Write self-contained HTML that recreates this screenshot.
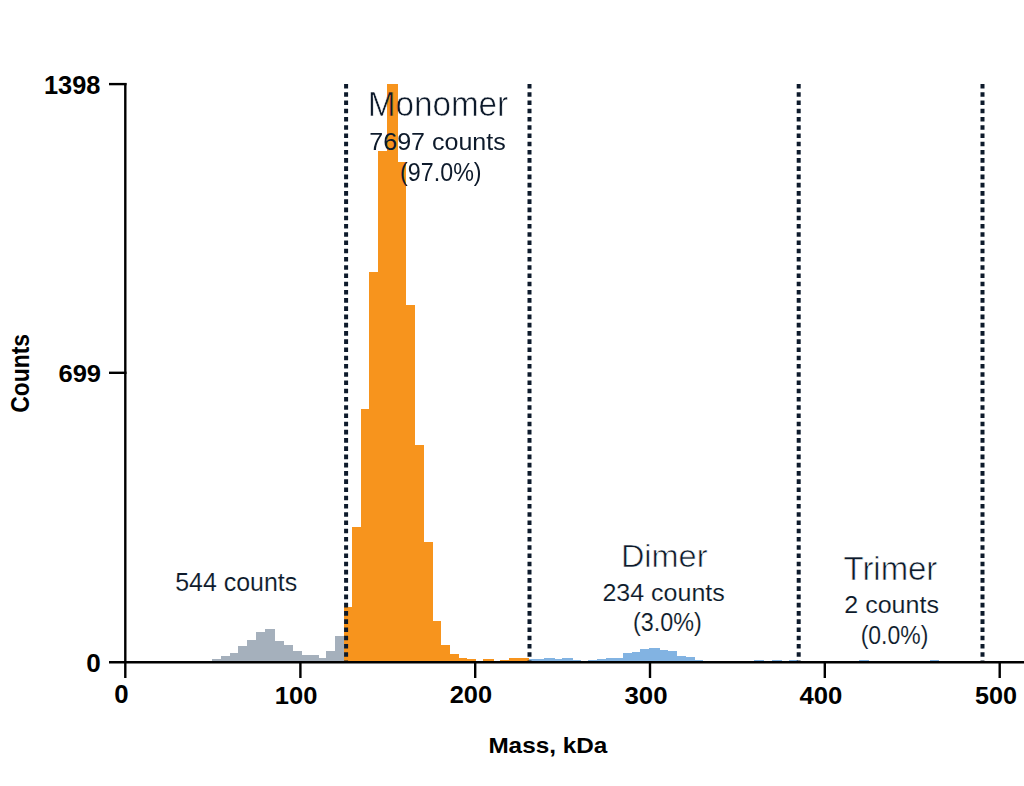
<!DOCTYPE html>
<html><head><meta charset="utf-8"><style>
html,body{margin:0;padding:0;background:#fff;width:1024px;height:786px;overflow:hidden}
svg{display:block}
text{font-family:"Liberation Sans",sans-serif}
</style></head><body>
<svg width="1024" height="786" viewBox="0 0 1024 786">
<rect width="1024" height="786" fill="#fff"/>
<defs><clipPath id="onBars"><rect x="344.1" y="606.8" width="8.10" height="55.20"/><rect x="352.2" y="527" width="8.40" height="135.00"/><rect x="360.6" y="408.6" width="8.80" height="253.40"/><rect x="369.4" y="271.6" width="8.70" height="390.40"/><rect x="378.1" y="151.2" width="8.70" height="510.80"/><rect x="386.8" y="84.2" width="10.80" height="577.80"/><rect x="397.6" y="161.6" width="8.30" height="500.40"/><rect x="405.9" y="304.7" width="9.40" height="357.30"/><rect x="415.3" y="445.3" width="8.50" height="216.70"/><rect x="423.8" y="542" width="8.90" height="120.00"/><rect x="432.7" y="620.8" width="8.50" height="41.20"/><rect x="441.2" y="644.5" width="8.80" height="17.50"/><rect x="450" y="654.4" width="8.75" height="7.60"/><rect x="458.75" y="657.6" width="8.55" height="4.40"/><rect x="467.3" y="658.8" width="8.80" height="3.20"/><rect x="483" y="659.1" width="10.70" height="2.90"/><rect x="500" y="659.8" width="9.30" height="2.20"/><rect x="509.3" y="658.3" width="8.80" height="3.70"/><rect x="518.1" y="658.1" width="10.50" height="3.90"/></clipPath><mask id="offBars" maskUnits="userSpaceOnUse" x="0" y="0" width="1024" height="786"><rect width="1024" height="786" fill="#fff"/><g fill="#000" shape-rendering="crispEdges"><rect x="344.1" y="606.8" width="8.10" height="55.20"/><rect x="352.2" y="527" width="8.40" height="135.00"/><rect x="360.6" y="408.6" width="8.80" height="253.40"/><rect x="369.4" y="271.6" width="8.70" height="390.40"/><rect x="378.1" y="151.2" width="8.70" height="510.80"/><rect x="386.8" y="84.2" width="10.80" height="577.80"/><rect x="397.6" y="161.6" width="8.30" height="500.40"/><rect x="405.9" y="304.7" width="9.40" height="357.30"/><rect x="415.3" y="445.3" width="8.50" height="216.70"/><rect x="423.8" y="542" width="8.90" height="120.00"/><rect x="432.7" y="620.8" width="8.50" height="41.20"/><rect x="441.2" y="644.5" width="8.80" height="17.50"/><rect x="450" y="654.4" width="8.75" height="7.60"/><rect x="458.75" y="657.6" width="8.55" height="4.40"/><rect x="467.3" y="658.8" width="8.80" height="3.20"/><rect x="483" y="659.1" width="10.70" height="2.90"/><rect x="500" y="659.8" width="9.30" height="2.20"/><rect x="509.3" y="658.3" width="8.80" height="3.70"/><rect x="518.1" y="658.1" width="10.50" height="3.90"/></g></mask></defs>
<g shape-rendering="crispEdges"><rect x="204" y="660.5" width="8.30" height="1.50" fill="#A5B0BC"/><rect x="212.3" y="658.75" width="8.20" height="3.25" fill="#A5B0BC"/><rect x="220.5" y="656.2" width="9.00" height="5.80" fill="#A5B0BC"/><rect x="229.5" y="652.7" width="8.70" height="9.30" fill="#A5B0BC"/><rect x="238.2" y="645.9" width="8.80" height="16.10" fill="#A5B0BC"/><rect x="247" y="639.7" width="8.50" height="22.30" fill="#A5B0BC"/><rect x="255.5" y="632.0" width="9.00" height="30.00" fill="#A5B0BC"/><rect x="264.5" y="629.4" width="10.70" height="32.60" fill="#A5B0BC"/><rect x="275.2" y="641.0" width="8.70" height="21.00" fill="#A5B0BC"/><rect x="283.9" y="645.0" width="8.80" height="17.00" fill="#A5B0BC"/><rect x="292.7" y="651.0" width="8.80" height="11.00" fill="#A5B0BC"/><rect x="301.5" y="655.0" width="8.60" height="7.00" fill="#A5B0BC"/><rect x="310.1" y="655.4" width="8.80" height="6.60" fill="#A5B0BC"/><rect x="318.9" y="657.9" width="7.00" height="4.10" fill="#A5B0BC"/><rect x="325.9" y="651.0" width="8.70" height="11.00" fill="#A5B0BC"/><rect x="334.6" y="636.1" width="9.50" height="25.90" fill="#A5B0BC"/><rect x="344.1" y="606.8" width="8.10" height="55.20" fill="#F7941D"/><rect x="352.2" y="527" width="8.40" height="135.00" fill="#F7941D"/><rect x="360.6" y="408.6" width="8.80" height="253.40" fill="#F7941D"/><rect x="369.4" y="271.6" width="8.70" height="390.40" fill="#F7941D"/><rect x="378.1" y="151.2" width="8.70" height="510.80" fill="#F7941D"/><rect x="386.8" y="84.2" width="10.80" height="577.80" fill="#F7941D"/><rect x="397.6" y="161.6" width="8.30" height="500.40" fill="#F7941D"/><rect x="405.9" y="304.7" width="9.40" height="357.30" fill="#F7941D"/><rect x="415.3" y="445.3" width="8.50" height="216.70" fill="#F7941D"/><rect x="423.8" y="542" width="8.90" height="120.00" fill="#F7941D"/><rect x="432.7" y="620.8" width="8.50" height="41.20" fill="#F7941D"/><rect x="441.2" y="644.5" width="8.80" height="17.50" fill="#F7941D"/><rect x="450" y="654.4" width="8.75" height="7.60" fill="#F7941D"/><rect x="458.75" y="657.6" width="8.55" height="4.40" fill="#F7941D"/><rect x="467.3" y="658.8" width="8.80" height="3.20" fill="#F7941D"/><rect x="483" y="659.1" width="10.70" height="2.90" fill="#F7941D"/><rect x="500" y="659.8" width="9.30" height="2.20" fill="#F7941D"/><rect x="509.3" y="658.3" width="8.80" height="3.70" fill="#F7941D"/><rect x="518.1" y="658.1" width="10.50" height="3.90" fill="#F7941D"/><rect x="528.6" y="659.4" width="7.70" height="2.60" fill="#82B3E2"/><rect x="536.3" y="659.4" width="7.70" height="2.60" fill="#82B3E2"/><rect x="544" y="658.4" width="10.80" height="3.60" fill="#82B3E2"/><rect x="554.8" y="659.4" width="6.80" height="2.60" fill="#82B3E2"/><rect x="561.6" y="658.4" width="11.30" height="3.60" fill="#82B3E2"/><rect x="572.9" y="659.9" width="8.30" height="2.10" fill="#82B3E2"/><rect x="588" y="660.4" width="8.80" height="1.60" fill="#82B3E2"/><rect x="596.8" y="659.0" width="9.20" height="3.00" fill="#82B3E2"/><rect x="606" y="658.0" width="8.50" height="4.00" fill="#82B3E2"/><rect x="614.5" y="658.0" width="8.50" height="4.00" fill="#82B3E2"/><rect x="623" y="653.2" width="8.60" height="8.80" fill="#82B3E2"/><rect x="631.6" y="652.0" width="8.80" height="10.00" fill="#82B3E2"/><rect x="640.4" y="648.5" width="8.80" height="13.50" fill="#82B3E2"/><rect x="649.2" y="647.7" width="10.60" height="14.30" fill="#82B3E2"/><rect x="659.8" y="649.6" width="8.20" height="12.40" fill="#82B3E2"/><rect x="668" y="650.8" width="9.30" height="11.20" fill="#82B3E2"/><rect x="677.3" y="656.1" width="8.80" height="5.90" fill="#82B3E2"/><rect x="686.1" y="657.3" width="8.70" height="4.70" fill="#82B3E2"/><rect x="694.8" y="660.2" width="8.20" height="1.80" fill="#82B3E2"/><rect x="754" y="660.4" width="9.80" height="1.60" fill="#82B3E2"/><rect x="772" y="660.4" width="9.80" height="1.60" fill="#82B3E2"/><rect x="789.2" y="660.4" width="8.80" height="1.60" fill="#82B3E2"/><rect x="859" y="660.4" width="10.00" height="1.60" fill="#82B3E2"/><rect x="930" y="660.4" width="9.00" height="1.60" fill="#82B3E2"/></g>
<line x1="346.1" y1="84" x2="346.1" y2="662" stroke="#0D1A2B" stroke-width="4" stroke-dasharray="4.6 3.635"/><line x1="529.5" y1="84" x2="529.5" y2="662" stroke="#0D1A2B" stroke-width="4" stroke-dasharray="4.6 3.635"/><line x1="798.7" y1="84" x2="798.7" y2="662" stroke="#0D1A2B" stroke-width="4" stroke-dasharray="4.6 3.635"/><line x1="982.5" y1="84" x2="982.5" y2="662" stroke="#0D1A2B" stroke-width="4" stroke-dasharray="4.6 3.635"/>
<g stroke="#000" stroke-width="2.4" fill="none"><line x1="125.3" y1="83" x2="125.3" y2="678"/><line x1="109" y1="84.1" x2="126.5" y2="84.1"/><line x1="109" y1="372.8" x2="126.5" y2="372.8"/><line x1="109" y1="662.2" x2="1024" y2="662.2"/><line x1="300.4" y1="662" x2="300.4" y2="678"/><line x1="475.2" y1="662" x2="475.2" y2="678"/><line x1="650" y1="662" x2="650" y2="678"/><line x1="824.8" y1="662" x2="824.8" y2="678"/><line x1="999.7" y1="662" x2="999.7" y2="678"/></g>
<text x="620.92" y="567.02" font-size="30.87" font-weight="normal" fill="#0D1A2B" textLength="86.54" lengthAdjust="spacingAndGlyphs" stroke="#fff" stroke-width="0.6">Dimer</text><text x="602.46" y="600.52" font-size="24.51" font-weight="normal" fill="#0D1A2B" textLength="122.34" lengthAdjust="spacingAndGlyphs" stroke="#fff" stroke-width="0.12">234 counts</text><text x="633.04" y="631.22" font-size="25.15" font-weight="normal" fill="#0D1A2B" textLength="68.78" lengthAdjust="spacingAndGlyphs" stroke="#fff" stroke-width="0.12">(3.0%)</text><text x="843.52" y="580.02" font-size="32.70" font-weight="normal" fill="#0D1A2B" textLength="93.80" lengthAdjust="spacingAndGlyphs" stroke="#fff" stroke-width="0.6">Trimer</text><text x="844.30" y="613.48" font-size="23.00" font-weight="normal" fill="#0D1A2B" textLength="94.66" lengthAdjust="spacingAndGlyphs" stroke="#fff" stroke-width="0.12">2 counts</text><text x="860.70" y="644.40" font-size="25.22" font-weight="normal" fill="#0D1A2B" textLength="67.62" lengthAdjust="spacingAndGlyphs" stroke="#fff" stroke-width="0.12">(0.0%)</text><text x="175.20" y="590.94" font-size="24.90" font-weight="normal" fill="#0D1A2B" textLength="121.96" lengthAdjust="spacingAndGlyphs" stroke="#fff" stroke-width="0.12">544 counts</text><g mask="url(#offBars)"><text x="367.68" y="115.72" font-size="34.64" font-weight="normal" fill="#0D1A2B" textLength="140.50" lengthAdjust="spacingAndGlyphs" stroke="#fff" stroke-width="0.6">Monomer</text><text x="369.30" y="149.84" font-size="24.67" font-weight="normal" fill="#0D1A2B" textLength="136.50" lengthAdjust="spacingAndGlyphs">7697 counts</text><text x="400.10" y="181.18" font-size="25.91" font-weight="normal" fill="#0D1A2B" textLength="81.50" lengthAdjust="spacingAndGlyphs">(97.0%)</text></g><g clip-path="url(#onBars)"><text x="367.68" y="115.72" font-size="34.64" font-weight="normal" fill="#0D1A2B" textLength="140.50" lengthAdjust="spacingAndGlyphs" stroke="#F7941D" stroke-width="0.6">Monomer</text><text x="369.30" y="149.84" font-size="24.67" font-weight="normal" fill="#0D1A2B" textLength="136.50" lengthAdjust="spacingAndGlyphs">7697 counts</text><text x="400.10" y="181.18" font-size="25.91" font-weight="normal" fill="#0D1A2B" textLength="81.50" lengthAdjust="spacingAndGlyphs">(97.0%)</text></g><text x="43.96" y="93.56" font-size="24.92" font-weight="bold" fill="#000" textLength="56.44" lengthAdjust="spacingAndGlyphs">1398</text><text x="58.44" y="382.26" font-size="24.75" font-weight="bold" fill="#000" textLength="42.64" lengthAdjust="spacingAndGlyphs">699</text><text x="86.34" y="671.72" font-size="26.09" font-weight="bold" fill="#000" textLength="14.50" lengthAdjust="spacingAndGlyphs">0</text><text x="114.16" y="703.46" font-size="24.96" font-weight="bold" fill="#000" textLength="14.34" lengthAdjust="spacingAndGlyphs">0</text><text x="274.82" y="703.62" font-size="24.75" font-weight="bold" fill="#000" textLength="42.58" lengthAdjust="spacingAndGlyphs">100</text><text x="449.70" y="703.42" font-size="24.75" font-weight="bold" fill="#000" textLength="42.38" lengthAdjust="spacingAndGlyphs">200</text><text x="624.54" y="703.62" font-size="24.75" font-weight="bold" fill="#000" textLength="43.02" lengthAdjust="spacingAndGlyphs">300</text><text x="799.54" y="703.62" font-size="24.75" font-weight="bold" fill="#000" textLength="42.86" lengthAdjust="spacingAndGlyphs">400</text><text x="974.96" y="703.62" font-size="24.75" font-weight="bold" fill="#000" textLength="42.04" lengthAdjust="spacingAndGlyphs">500</text><text x="488.40" y="753.26" font-size="22.86" font-weight="bold" fill="#000" textLength="118.80" lengthAdjust="spacingAndGlyphs">Mass, kDa</text><text x="0" y="0" font-size="26.5" font-weight="bold" fill="#000" textLength="78.8" lengthAdjust="spacingAndGlyphs" transform="translate(28.6,412.8) rotate(-90)">Counts</text>
</svg>
</body></html>
